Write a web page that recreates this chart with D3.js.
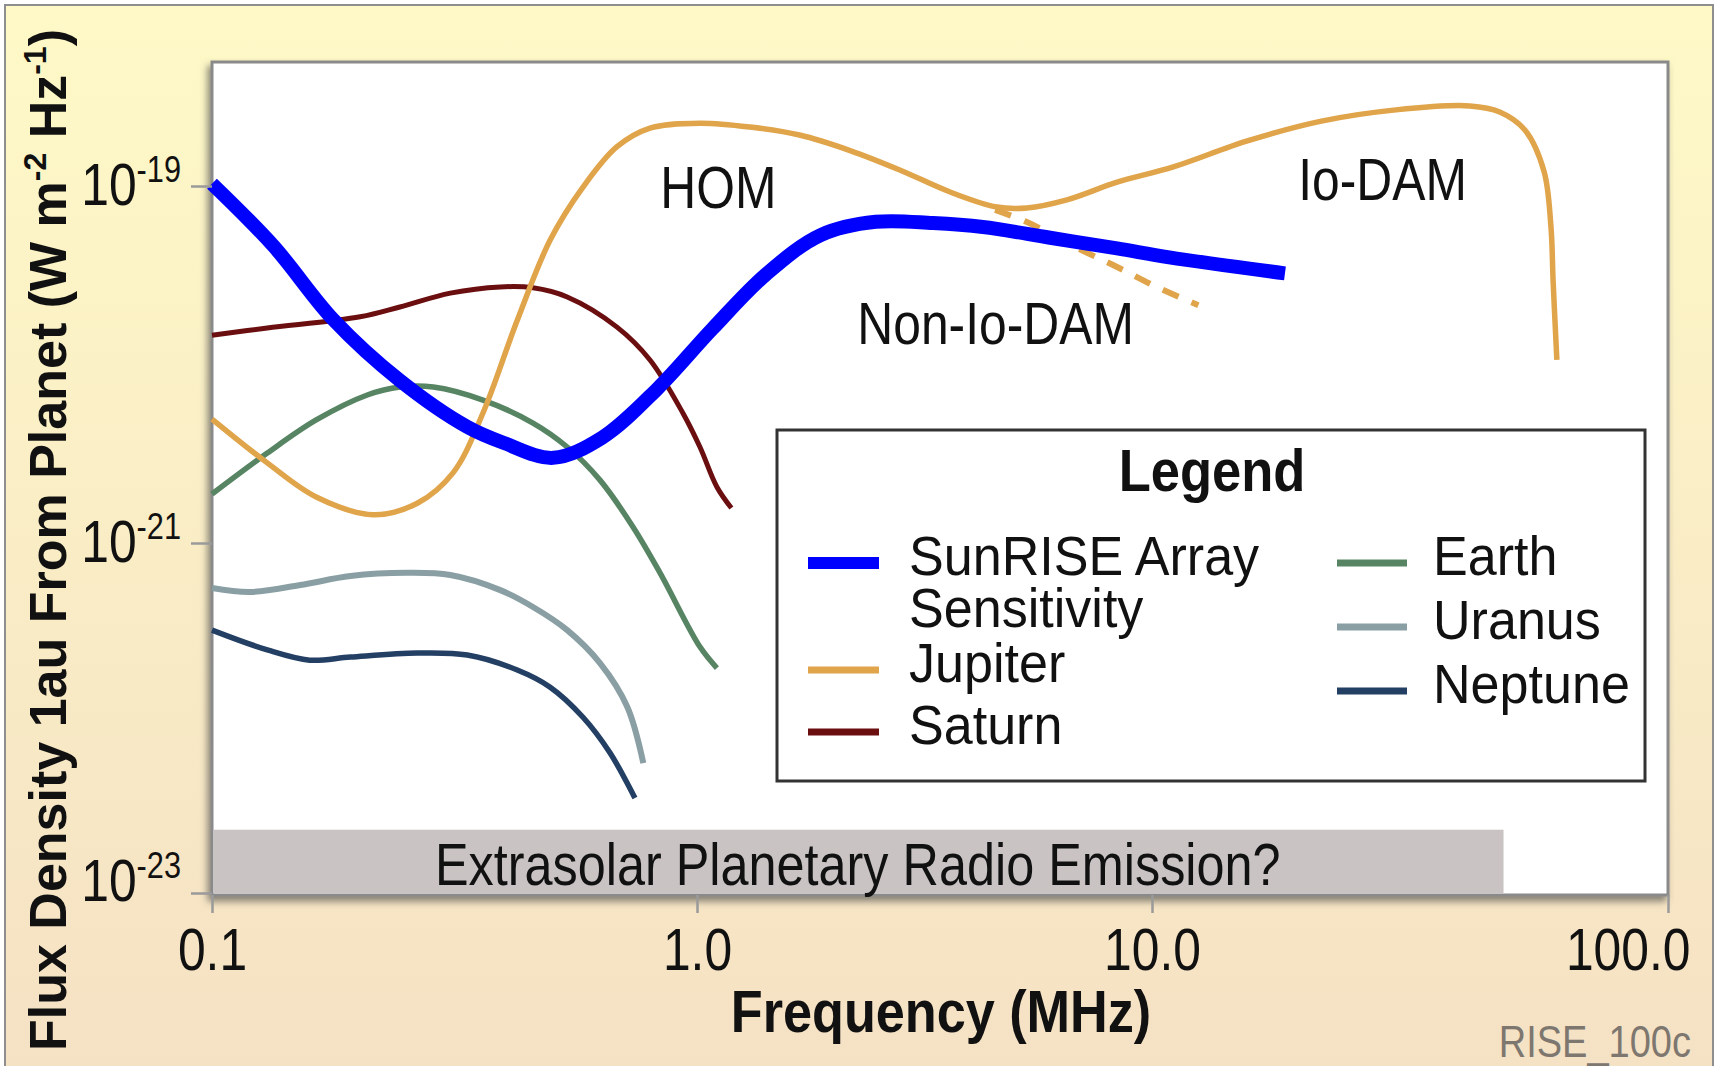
<!DOCTYPE html>
<html>
<head>
<meta charset="utf-8">
<script src="https://cdn.jsdelivr.net/npm/d3@7"></script>
<style>
  html, body { margin: 0; padding: 0; background: #ffffff; }
  svg { display: block; }
  text { font-family: "Liberation Sans", Arial, sans-serif; }
</style>
</head>
<body>
<svg id="chart" width="1717" height="1066"></svg>
<script>
// ---- Axis ticks ----
const freqTicks = [0.1, 1, 10, 100];
const freqTickLabels = ["0.1", "1.0", "10.0", "100.0"];
const fluxTicks = [1e-19, 1e-21, 1e-23];
const fluxTickExponents = ["-19", "-21", "-23"];

// ---- Spectra: frequency (MHz) and flux density at 1 au (W m^-2 Hz^-1) ----
const sunriseFreq = [0.1, 0.134, 0.178, 0.244, 0.336, 0.40, 0.505, 0.637, 0.828, 1.08, 1.42, 1.87, 2.47, 3.30, 4.25, 5.97, 8.38, 10.8, 18.1];
const sunriseFlux = [1.03e-19, 4.6e-20, 1.78e-20, 8.13e-21, 4.47e-21, 3.63e-21, 3.0e-21, 3.89e-21, 7.3e-21, 1.58e-20, 3.21e-20, 5.31e-20, 6.3e-20, 6.2e-20, 5.89e-20, 5.13e-20, 4.47e-20, 3.98e-20, 3.24e-20];

const jupiterFreq = [0.1, 0.13, 0.164, 0.215, 0.265, 0.314, 0.362, 0.426, 0.498, 0.582, 0.684, 0.80, 1.015, 1.31, 1.68, 2.17, 2.79, 3.60, 4.56, 5.31, 6.50, 8.38, 11.0, 15.3, 21.3, 29.7, 41.3, 47.2, 52.8, 57.5, 59.3, 59.9, 60.9];
const jupiterFlux = [4.95e-21, 2.81e-21, 1.81e-21, 1.44e-21, 1.67e-21, 2.47e-21, 5.35e-21, 1.77e-20, 4.98e-20, 9.86e-20, 1.66e-19, 2.11e-19, 2.25e-19, 2.14e-19, 1.93e-19, 1.58e-19, 1.23e-19, 9.25e-20, 7.62e-20, 7.53e-20, 8.36e-20, 1.05e-19, 1.28e-19, 1.79e-19, 2.31e-19, 2.67e-19, 2.81e-19, 2.60e-19, 2.06e-19, 1.21e-19, 5.97e-20, 2.90e-20, 1.06e-20];

// Non-Io DAM branch (dashed)
const nonIoDamFreq = [4.52, 5.31, 6.84, 8.38, 10.13, 12.3];
const nonIoDamFlux = [7.35e-20, 6.28e-20, 4.50e-20, 3.52e-20, 2.75e-20, 2.15e-20];

const saturnFreq = [0.1, 0.13, 0.202, 0.244, 0.31, 0.393, 0.459, 0.54, 0.684, 0.80, 0.935, 1.015, 1.106, 1.19];
const saturnFlux = [1.46e-20, 1.60e-20, 1.85e-20, 2.10e-20, 2.51e-20, 2.72e-20, 2.69e-20, 2.39e-20, 1.62e-20, 1.06e-20, 5.35e-21, 3.45e-21, 2.06e-21, 1.57e-21];

const earthFreq = [0.1, 0.13, 0.164, 0.209, 0.244, 0.286, 0.362, 0.459, 0.54, 0.631, 0.738, 0.839, 1.015, 1.106];
const earthFlux = [1.88e-21, 3.19e-21, 4.89e-21, 6.75e-21, 7.48e-21, 7.48e-21, 6.32e-21, 4.70e-21, 3.45e-21, 2.25e-21, 1.23e-21, 6.75e-22, 2.55e-22, 1.93e-22];

const uranusFreq = [0.1, 0.12, 0.152, 0.193, 0.252, 0.31, 0.393, 0.459, 0.54, 0.631, 0.718, 0.775];
const uranusFlux = [5.53e-22, 5.25e-22, 5.75e-22, 6.47e-22, 6.75e-22, 6.56e-22, 5.38e-22, 4.31e-22, 3.18e-22, 2.06e-22, 1.16e-22, 5.53e-23];

const neptuneFreq = [0.1, 0.13, 0.159, 0.193, 0.265, 0.336, 0.426, 0.498, 0.582, 0.662, 0.745];
const neptuneFlux = [3.18e-22, 2.45e-22, 2.14e-22, 2.23e-22, 2.35e-22, 2.29e-22, 1.88e-22, 1.50e-22, 1.01e-22, 6.31e-23, 3.49e-23];

// Extrasolar emission band: frequency span and flux span
const bandFreq = [0.1, 48];
const bandFlux = [2.3e-23, 1e-23];

// Region labels: [text, frequency, flux]
const regionLabels = [
  ["HOM", 0.84, 7.5e-20],
  ["Io-DAM", 19.2, 8.4e-20],
  ["Non-Io-DAM", 2.25, 1.3e-20]
];

// ---- Layout ----
const W = 1717, H = 1066;
const plot = { left: 212, top: 62, right: 1668, bottom: 895 };

const svg = d3.select("#chart");
const defs = svg.append("defs");

const bg = defs.append("linearGradient").attr("id", "bgGrad")
  .attr("x1", 0).attr("y1", 0).attr("x2", 0).attr("y2", 1);
bg.append("stop").attr("offset", "0%").attr("stop-color", "#fef9c7");
bg.append("stop").attr("offset", "100%").attr("stop-color", "#f5e1c4");

const shadow = defs.append("filter").attr("id", "frameShadow")
  .attr("x", "-5%").attr("y", "-5%").attr("width", "110%").attr("height", "115%");
shadow.append("feDropShadow").attr("dx", -3).attr("dy", 5).attr("stdDeviation", 3.5)
  .attr("flood-color", "#4a4a4a").attr("flood-opacity", 0.65);

// Condensed text: a horizontally squeezed sans, anchored at (x, y)
function narrow(parent, px, py, k) {
  return parent.append("g")
    .attr("transform", `translate(${px},${py}) scale(${k},1)`)
    .append("text").attr("x", 0).attr("y", 0);
}

// Page background and outer frame
svg.append("rect").attr("x", 0).attr("y", 0).attr("width", W).attr("height", H).attr("fill", "#ffffff");
svg.append("rect").attr("x", 5).attr("y", 5).attr("width", W - 9).attr("height", H + 10)
  .attr("fill", "url(#bgGrad)").attr("stroke", "#8e8e8e").attr("stroke-width", 2);

// ---- Scales ----
const x = d3.scaleLog().domain(freqTicks).range([212, 697, 1152, 1668]);
const y = d3.scaleLog().domain(fluxTicks).range([186, 543, 893]);

// Plot area
svg.append("rect")
  .attr("x", plot.left).attr("y", plot.top)
  .attr("width", plot.right - plot.left).attr("height", plot.bottom - plot.top)
  .attr("fill", "#ffffff").attr("stroke", "#8a8a8a").attr("stroke-width", 3)
  .attr("filter", "url(#frameShadow)");

const g = svg.append("g");

// Extrasolar band
g.append("rect")
  .attr("x", x(bandFreq[0]) + 1.5)
  .attr("y", y(bandFlux[0]))
  .attr("width", x(bandFreq[1]) - x(bandFreq[0]) - 1.5)
  .attr("height", plot.bottom - 1.5 - y(bandFlux[0]))
  .attr("fill", "#c9c3c3");
narrow(g, (x(bandFreq[0]) + x(bandFreq[1])) / 2, plot.bottom - 10, 0.84)
  .attr("text-anchor", "middle")
  .attr("font-size", 60).attr("fill", "#111")
  .text("Extrasolar Planetary Radio Emission?");

// ---- Axes ----
const kTick = 0.83;
const xAxis = d3.axisBottom(x).tickValues(freqTicks).tickSize(18).tickFormat((d, i) => freqTickLabels[i]);
const xg = svg.append("g").attr("transform", `translate(0,${plot.bottom})`).call(xAxis);
xg.select(".domain").remove();
xg.selectAll(".tick line").attr("stroke", "#9a9a9a").attr("stroke-width", 2.5);
xg.selectAll(".tick text").attr("font-size", 60).attr("fill", "#111")
  .attr("font-family", "Liberation Sans, Arial, sans-serif")
  .attr("transform", `scale(${kTick},1)`)
  .attr("y", 75).attr("dy", 0)
  .attr("text-anchor", (d, i) => i === freqTicks.length - 1 ? "end" : "middle")
  .attr("x", (d, i) => i === freqTicks.length - 1 ? 22 / kTick : 0);

const yAxis = d3.axisLeft(y).tickValues(fluxTicks).tickSize(21).tickFormat("");
const yg = svg.append("g").attr("transform", `translate(${plot.left},0)`).call(yAxis);
yg.select(".domain").remove();
yg.selectAll(".tick line").attr("stroke", "#9a9a9a").attr("stroke-width", 2.5);
yg.selectAll(".tick").each(function (d, i) {
  const t = d3.select(this).append("text")
    .attr("transform", `scale(${kTick},1)`)
    .attr("x", -31 / kTick).attr("y", i === fluxTicks.length - 1 ? 7 : 18)
    .attr("text-anchor", "end").attr("fill", "#111");
  t.append("tspan").attr("font-size", 60).text("10");
  t.append("tspan").attr("font-size", 37).attr("dy", -23).text(fluxTickExponents[i]);
});

// Axis titles
narrow(svg, 941, 1032, 0.87)
  .attr("text-anchor", "middle")
  .attr("font-size", 60).attr("font-weight", "bold").attr("fill", "#111")
  .text("Frequency (MHz)");

const yTitle = svg.append("text")
  .attr("transform", "translate(66,540) rotate(-90)")
  .attr("text-anchor", "middle").attr("font-size", 52).attr("font-weight", "bold").attr("fill", "#111");
yTitle.append("tspan").text("Flux Density 1au From Planet (W m");
yTitle.append("tspan").attr("font-size", 32).attr("dy", -20).text("-2");
yTitle.append("tspan").attr("dy", 20).text(" Hz");
yTitle.append("tspan").attr("font-size", 32).attr("dy", -20).text("-1");
yTitle.append("tspan").attr("dy", 20).text(")");

// ---- Curves ----
const line = d3.line()
  .x(d => x(d[0])).y(d => y(d[1]))
  .curve(d3.curveCatmullRom.alpha(0.5));
const pairs = (f, v) => f.map((d, i) => [d, v[i]]);

const series = [
  { f: earthFreq, v: earthFlux, color: "#578563", width: 5.5 },
  { f: uranusFreq, v: uranusFlux, color: "#8a9fa4", width: 6 },
  { f: neptuneFreq, v: neptuneFlux, color: "#233f63", width: 5.5 },
  { f: saturnFreq, v: saturnFlux, color: "#6a0e10", width: 5 },
  { f: jupiterFreq, v: jupiterFlux, color: "#e0a44a", width: 5.5 },
  { f: nonIoDamFreq, v: nonIoDamFlux, color: "#e0a44a", width: 6, dash: "17 14" },
  { f: sunriseFreq, v: sunriseFlux, color: "#0000ff", width: 14 }
];

g.selectAll("path.series").data(series).join("path")
  .attr("class", "series")
  .attr("d", s => line(pairs(s.f, s.v)))
  .attr("fill", "none")
  .attr("stroke", s => s.color)
  .attr("stroke-width", s => s.width)
  .attr("stroke-dasharray", s => s.dash || null)
  .attr("stroke-linecap", "butt")
  .attr("stroke-linejoin", "round");

// Region labels
regionLabels.forEach(d => {
  narrow(g, x(d[1]), y(d[2]), 0.83)
    .attr("font-size", 60).attr("fill", "#111")
    .text(d[0]);
});

// ---- Legend ----
const legendTitle = "Legend";
const legendItems = [
  { lines: ["SunRISE Array", "Sensitivity"], color: "#0000ff", width: 12, col: 0, y: 563 },
  { lines: ["Jupiter"], color: "#e0a44a", width: 7, col: 0, y: 670 },
  { lines: ["Saturn"], color: "#6a0e10", width: 7, col: 0, y: 732 },
  { lines: ["Earth"], color: "#578563", width: 7, col: 1, y: 563 },
  { lines: ["Uranus"], color: "#8a9fa4", width: 7, col: 1, y: 627 },
  { lines: ["Neptune"], color: "#233f63", width: 7, col: 1, y: 691 }
];
const legendCols = [{ x0: 808, x1: 879, tx: 909 }, { x0: 1337, x1: 1407, tx: 1433 }];

const lg = svg.append("g");
lg.append("rect").attr("x", 777).attr("y", 430).attr("width", 868).attr("height", 351)
  .attr("fill", "#ffffff").attr("stroke", "#333333").attr("stroke-width", 3);
narrow(lg, 1212, 491, 0.875)
  .attr("text-anchor", "middle")
  .attr("font-size", 60).attr("font-weight", "bold").attr("fill", "#111")
  .text(legendTitle);

legendItems.forEach(item => {
  const c = legendCols[item.col];
  lg.append("line").attr("x1", c.x0).attr("x2", c.x1).attr("y1", item.y).attr("y2", item.y)
    .attr("stroke", item.color).attr("stroke-width", item.width);
  const t = narrow(lg, c.tx, item.y + 12, 0.93)
    .attr("font-size", 56).attr("fill", "#111");
  item.lines.forEach((s, k) => {
    t.append("tspan").attr("x", 0).attr("dy", k === 0 ? 0 : 52).text(s);
  });
});

// Figure identifier
narrow(svg, 1691, 1057, 0.845)
  .attr("text-anchor", "end")
  .attr("font-size", 45).attr("fill", "#7d7770")
  .text("RISE_100c");
</script>
</body>
</html>
